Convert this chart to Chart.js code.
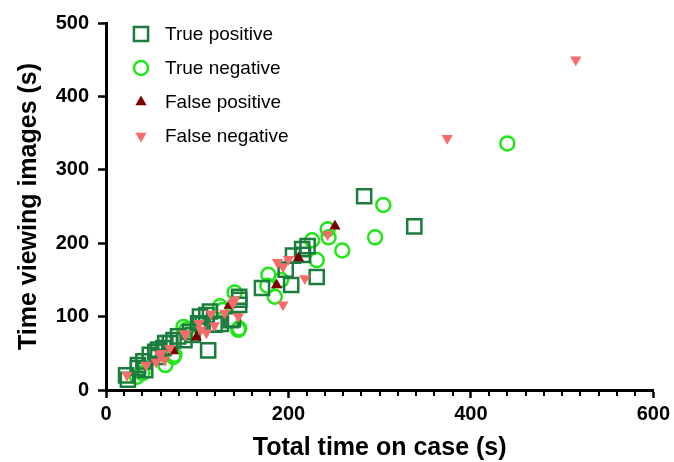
<!DOCTYPE html>
<html>
<head>
<meta charset="utf-8">
<script src="https://cdn.jsdelivr.net/npm/chart.js@4.4.1/dist/chart.umd.min.js"></script>
<style>
  body { margin: 0; background: #fff; }
  #wrap { width: 674px; height: 462px; }
</style>
</head>
<body>
<div id="wrap"><canvas id="scatter" width="674" height="462"></canvas></div>
<script>
// [total time on case (s), time viewing images (s)]
const truePositive = [
  [22, 20], [24, 14], [35, 30], [35, 34], [41, 39], [43, 27], [48, 48], [54, 52],
  [57, 45], [57, 55], [63, 57], [65, 64], [70, 64], [74, 68], [79, 73], [86, 68],
  [92, 79], [95, 75], [101, 91], [103, 100], [106, 89], [110, 102], [112, 54], [114, 107],
  [119, 89], [126, 90], [137, 95], [139, 96], [146, 116], [146, 123], [146, 127],
  [171, 139], [197, 164], [203, 143], [205, 183], [215, 192], [216, 184], [221, 196],
  [231, 154], [283, 264], [338, 223]
];
const trueNegative = [
  [34, 18], [40, 23], [65, 34], [74, 45], [75, 48], [85, 86], [88, 82], [125, 114],
  [128, 109], [141, 133], [145, 82], [146, 84], [177, 142], [178, 157], [185, 127],
  [192, 150], [226, 204], [231, 177], [243, 219], [244, 208], [259, 190], [295, 208],
  [304, 252], [440, 336]
];
const falsePositive = [
  [74, 53], [99, 72], [135, 115], [187, 143], [211, 180], [251, 223]
];
const falseNegative = [
  [23, 20], [44, 34], [55, 38], [59, 48], [61, 50], [64, 41], [70, 57], [87, 75],
  [86, 77], [102, 91], [104, 82], [110, 78], [115, 104], [119, 88], [130, 105],
  [139, 118], [141, 123], [145, 100], [188, 174], [194, 168], [194, 116], [200, 178],
  [218, 152], [243, 212], [374, 343], [515, 450]
];
const xTicks = { min: 0, max: 600, step: 200, minor: 20 };
const yTicks = { min: 0, max: 500, step: 100 };

const pts = (arr) => arr.map(p => ({ x: p[0], y: p[1] }));

// minor ticks on the x axis (every 20 s) - chart.js only has one tick length
const minorTicks = {
  id: 'minorTicks',
  afterDraw(chart) {
    const sx = chart.scales.x, ctx = chart.ctx;
    const y0 = chart.chartArea.bottom;
    ctx.save();
    ctx.strokeStyle = '#000';
    ctx.lineWidth = 2;
    for (let v = xTicks.min + xTicks.minor; v < xTicks.max; v += xTicks.minor) {
      if (v % xTicks.step === 0) continue;
      const px = Math.round(sx.getPixelForValue(v));
      ctx.beginPath();
      ctx.moveTo(px, y0);
      ctx.lineTo(px, y0 + 6);
      ctx.stroke();
    }
    ctx.restore();
  }
};

function marker(ctx, ds, x, y) {
  ctx.save();
  ctx.lineWidth = ds.borderWidth;
  ctx.strokeStyle = ds.borderColor;
  ctx.fillStyle = ds.backgroundColor;
  const r = ds.pointRadius;
  ctx.beginPath();
  if (ds.pointStyle === 'rect') {
    const s = r * Math.SQRT1_2;
    ctx.rect(x - s, y - s, 2 * s, 2 * s);
  } else if (ds.pointStyle === 'circle') {
    ctx.arc(x, y, r, 0, Math.PI * 2);
  } else {
    const dir = ds.pointRotation === 180 ? -1 : 1;
    const h = r * 0.5, w = r * Math.sqrt(3) / 2;
    ctx.moveTo(x, y - dir * r);
    ctx.lineTo(x + w, y + dir * h);
    ctx.lineTo(x - w, y + dir * h);
    ctx.closePath();
  }
  ctx.fill();
  if (ds.borderWidth) ctx.stroke();
  ctx.restore();
}

// legend sits inside the plot, top left
const insideLegend = {
  id: 'insideLegend',
  afterDraw(chart) {
    const ctx = chart.ctx, a = chart.chartArea;
    const order = [0, 1, 2, 3];
    order.forEach((i, row) => {
      const ds = chart.data.datasets[i];
      const y = a.top + 11 + row * 34;
      marker(ctx, ds, a.left + 35, y);
      ctx.save();
      ctx.fillStyle = '#000';
      ctx.font = '19px "Liberation Sans", Arial, sans-serif';
      ctx.textBaseline = 'middle';
      ctx.textAlign = 'left';
      ctx.fillText(ds.label, a.left + 59, y + 1);
      ctx.restore();
    });
  }
};

const tickFont = { family: '"Liberation Sans", Arial, sans-serif', size: 20, weight: 'bold' };
const titleFont = { family: '"Liberation Sans", Arial, sans-serif', size: 25, weight: 'bold', lineHeight: 1 };

new Chart(document.getElementById('scatter'), {
  type: 'scatter',
  data: {
    datasets: [
      { label: 'True positive', data: pts(truePositive), pointStyle: 'rect', pointRadius: 10,
        borderColor: '#1b7d3d', backgroundColor: 'rgba(0,0,0,0)', borderWidth: 2.5, order: 3 },
      { label: 'True negative', data: pts(trueNegative), pointStyle: 'circle', pointRadius: 7,
        borderColor: '#22e61a', backgroundColor: 'rgba(0,0,0,0)', borderWidth: 2.5, order: 4 },
      { label: 'False positive', data: pts(falsePositive), pointStyle: 'triangle', pointRadius: 6.5,
        borderColor: '#7a0000', backgroundColor: '#7a0000', borderWidth: 0, order: 2 },
      { label: 'False negative', data: pts(falseNegative), pointStyle: 'triangle', pointRotation: 180,
        pointRadius: 6.5, borderColor: '#f76b6b', backgroundColor: '#f76b6b', borderWidth: 0, order: 1 }
    ]
  },
  options: {
    responsive: false,
    animation: false,
    layout: { padding: { top: 23, right: 19, left: 0, bottom: 0 } },
    plugins: { legend: { display: false }, tooltip: { enabled: false } },
    scales: {
      x: {
        type: 'linear', min: xTicks.min, max: xTicks.max,
        afterFit: (s) => { s.height = 72; },
        ticks: { stepSize: xTicks.step, color: '#000', font: tickFont, padding: 4, maxRotation: 0 },
        grid: { drawOnChartArea: false, tickLength: 8, tickWidth: 2.5, tickColor: '#000' },
        border: { color: '#000', width: 3 },
        title: { display: true, text: 'Total time on case (s)', color: '#000', font: titleFont,
                 padding: { top: 0, bottom: 1 } }
      },
      y: {
        type: 'linear', min: yTicks.min, max: yTicks.max,
        afterFit: (s) => { s.width = 106; },
        ticks: { stepSize: yTicks.step, color: '#000', font: tickFont, padding: 9 },
        grid: { drawOnChartArea: false, tickLength: 8, tickWidth: 2.5, tickColor: '#000' },
        border: { color: '#000', width: 3 },
        title: { display: true, text: 'Time viewing images (s)', color: '#000', font: titleFont,
                 padding: { top: 17, bottom: 0 } }
      }
    }
  },
  plugins: [minorTicks, insideLegend]
});
</script>
</body>
</html>
